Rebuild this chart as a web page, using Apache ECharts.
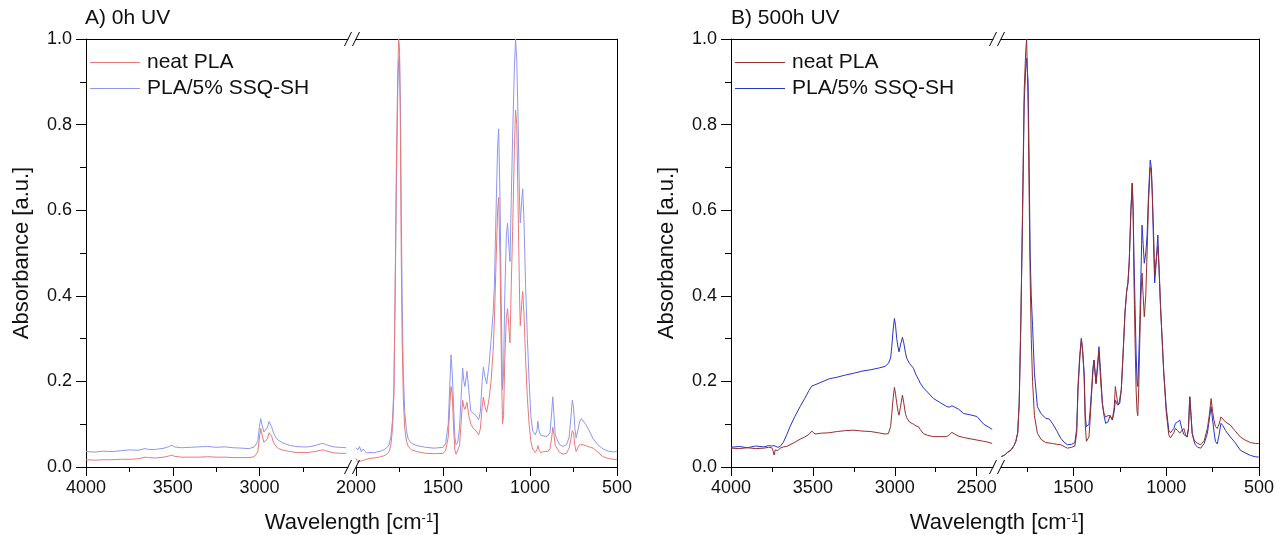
<!DOCTYPE html>
<html><head><meta charset="utf-8">
<script src="https://cdn.jsdelivr.net/npm/echarts@6/dist/echarts.min.js"></script>
<style>html,body{margin:0;padding:0;background:#fff}#c{width:1277px;height:535px}</style>
</head><body><div id="c"></div>
<script>
// ---------- Panel A (0h UV), left segment 4000-2500 ----------
const wA1 = [4000,3950,3900,3850,3800,3750,3700,3660,3640,3600,
  3550,3520,3505,3490,3450,3400,3350,3300,3250,3200,
  3150,3100,3060,3030,3010,3000,2993,2985,2975,2965,
  2955,2945,2938,2930,2920,2905,2890,2870,2850,2820,
  2790,2760,2720,2680,2650,2635,2620,2600,2570,2540,2500];
const ssqA1 = [0.036,0.035,0.037,0.036,0.038,0.040,0.039,0.043,0.041,0.041,
  0.044,0.048,0.051,0.047,0.045,0.046,0.047,0.048,0.046,0.047,
  0.045,0.044,0.043,0.047,0.060,0.095,0.113,0.098,0.082,0.080,
  0.092,0.106,0.107,0.094,0.080,0.068,0.062,0.057,0.054,0.050,
  0.048,0.047,0.047,0.050,0.054,0.055,0.053,0.050,0.047,0.046,0.045];
const neatA1 = [0.017,0.016,0.017,0.017,0.018,0.018,0.019,0.023,0.022,0.021,
  0.023,0.026,0.028,0.025,0.023,0.023,0.023,0.024,0.023,0.023,
  0.022,0.022,0.022,0.024,0.035,0.070,0.090,0.075,0.058,0.055,
  0.065,0.080,0.083,0.072,0.058,0.048,0.043,0.040,0.038,0.036,
  0.034,0.034,0.034,0.036,0.039,0.040,0.038,0.036,0.033,0.032,0.032];

// ---------- Panel A, right segment 2000-500 ----------
const wA2 = [2000,1990,1980,1970,1960,1940,1920,1900,1880,1860,
  1840,1820,1810,1800,1790,1782,1775,1768,1760,1755,
  1750,1745,1740,1735,1728,1720,1710,1700,1680,1650,
  1600,1550,1500,1485,1470,1460,1454,1447,1440,1432,
  1425,1415,1405,1395,1387,1380,1374,1362,1352,1340,
  1325,1310,1295,1285,1275,1268,1258,1249,1235,1224,
  1212,1205,1195,1186,1180,1172,1165,1158,1152,1145,
  1136,1129,1122,1115,1108,1100,1090,1083,1076,1068,
  1060,1056,1048,1042,1035,1025,1015,1005,995,985,
  970,960,955,948,940,920,900,885,875,869,
  862,855,845,830,810,790,775,765,757,750,
  742,735,725,715,705,695,680,660,637,610,
  580,550,520,500];
const ssqA2 = [.045,.040,.048,.036,.042,.033,.034,.033,.035,.037,
  .040,.046,.052,.070,.110,.19,.40,.65,.88,.95,
  .96,.85,.60,.40,.22,.13,.085,.065,.055,.050,
  .046,.044,.046,.055,.10,.20,.262,.22,.15,.07,
  .052,.058,.09,.17,.231,.20,.188,.224,.18,.13,
  .125,.120,.110,.13,.20,.233,.21,.194,.24,.295,
  .36,.42,.60,.75,.79,.62,.38,.18,.22,.40,
  .54,.57,.52,.48,.62,.77,.93,1.0,.95,.80,
  .62,.57,.62,.65,.58,.42,.30,.20,.12,.085,
  .075,.085,.107,.085,.075,.072,.072,.080,.130,.164,
  .120,.075,.065,.052,.048,.052,.070,.115,.156,.140,
  .090,.068,.085,.105,.113,.110,.100,.085,.066,.052,
  .042,.037,.035,.037];
const neatA2 = [.020,.012,.015,.014,.016,.018,.020,.021,.022,.024,
  .026,.031,.036,.050,.090,.17,.42,.70,.92,1.0,
  .98,.80,.50,.30,.16,.09,.060,.048,.040,.036,
  .032,.031,.032,.038,.07,.15,.188,.17,.10,.04,
  .030,.032,.05,.11,.156,.140,.135,.151,.120,.10,
  .090,.085,.075,.09,.14,.163,.14,.128,.16,.20,
  .27,.34,.48,.60,.63,.48,.26,.10,.12,.25,
  .35,.37,.33,.29,.42,.55,.74,.834,.80,.60,
  .40,.33,.38,.41,.36,.25,.16,.10,.060,.042,
  .034,.040,.050,.040,.034,.036,.036,.042,.070,.093,
  .075,.050,.044,.034,.030,.032,.045,.065,.085,.080,
  .050,.036,.045,.052,.053,.052,.050,.047,.044,.035,
  .024,.020,.018,.017];

// ---------- Panel B (500h UV), left segment 4000-2400 ----------
const wB1 = [4000,3950,3900,3850,3800,3770,3751,3745,3737,3730,
  3725,3715,3700,3680,3660,3640,3610,3578,3550,3525,
  3507,3495,3487,3450,3400,3350,3300,3250,3200,3150,
  3100,3060,3039,3025,3018,3010,3002,2995,2988,2980,
  2974,2965,2953,2945,2935,2927,2910,2886,2870,2855,
  2845,2825,2800,2764,2720,2682,2665,2651,2635,2610,
  2580,2540,2498,2457,2430,2405];
const ssqB1 = [.046,.048,.045,.049,.047,.050,.049,.052,.050,.051,
  .050,.046,.048,.058,.075,.094,.118,.141,.160,.178,
  .189,.191,.192,.198,.206,.210,.215,.219,.224,.227,
  .231,.235,.242,.255,.281,.320,.347,.330,.300,.280,
  .269,.285,.303,.290,.268,.254,.242,.231,.215,.205,
  .196,.185,.175,.160,.150,.141,.140,.143,.140,.135,
  .125,.122,.118,.100,.094,.088];
const neatB1 = [.044,.043,.045,.043,.044,.046,.045,.040,.028,.040,
  .036,.038,.044,.047,.048,.052,.058,.065,.070,.076,
  .084,.080,.077,.079,.080,.083,.085,.086,.084,.083,
  .080,.077,.078,.095,.125,.160,.186,.170,.150,.130,
  .121,.140,.168,.150,.125,.115,.105,.100,.096,.094,
  .088,.078,.074,.071,.071,.071,.076,.081,.077,.072,
  .069,.066,.063,.060,.058,.055];

// ---------- Panel B, right segment 1890-500 ----------
const wB2 = [1890,1870,1855,1835,1820,1810,1800,1792,1783,1774,
  1765,1757,1752,1744,1738,1733,1727,1720,1710,1694,
  1675,1649,1630,1613,1590,1568,1550,1532,1510,1492,
  1482,1475,1466,1457,1450,1442,1436,1430,1423,1416,
  1410,1402,1395,1389,1383,1378,1370,1362,1353,1344,
  1335,1326,1314,1302,1290,1280,1274,1268,1262,1256,
  1250,1242,1232,1222,1213,1206,1199,1190,1183,1178,
  1174,1168,1162,1157,1153,1148,1142,1136,1130,1124,
  1118,1110,1103,1095,1086,1080,1075,1068,1062,1055,
  1045,1038,1031,1022,1013,1000,986,977,968,959,
  950,938,927,916,905,895,887,880,873,866,
  860,850,843,830,814,795,778,768,758,750,
  743,735,725,715,705,695,680,654,630,600,
  575,546,520,501];
const ssqB2 = [.024,.028,.034,.040,.050,.060,.080,.149,.34,.577,
  .85,.93,.955,.90,.70,.50,.40,.33,.22,.141,
  .125,.114,.112,.102,.085,.067,.058,.052,.053,.057,
  .09,.19,.26,.30,.27,.22,.12,.094,.095,.10,
  .13,.18,.23,.25,.22,.195,.24,.281,.22,.149,
  .12,.102,.105,.12,.11,.13,.156,.15,.145,.145,
  .149,.18,.266,.36,.41,.43,.48,.60,.663,.60,
  .50,.38,.266,.20,.188,.25,.34,.45,.565,.52,
  .476,.50,.54,.64,.717,.70,.64,.52,.43,.47,
  .542,.46,.38,.30,.22,.14,.086,.08,.085,.09,
  .102,.105,.11,.09,.076,.072,.07,.09,.164,.12,
  .079,.06,.052,.046,.044,.055,.079,.11,.141,.11,
  .086,.06,.054,.075,.102,.097,.085,.07,.058,.039,
  .033,.027,.024,.023];
const neatB2 = [.024,.028,.034,.040,.050,.060,.080,.149,.34,.60,
  .88,.97,1.0,.85,.62,.45,.30,.20,.12,.079,
  .065,.057,.056,.055,.053,.052,.048,.044,.046,.049,
  .08,.18,.25,.30,.27,.21,.10,.06,.058,.07,
  .11,.17,.22,.25,.22,.195,.23,.27,.20,.149,
  .125,.117,.12,.12,.11,.14,.188,.17,.15,.145,
  .149,.18,.266,.36,.41,.43,.48,.60,.663,.60,
  .45,.30,.18,.13,.12,.18,.30,.40,.453,.40,
  .351,.40,.50,.62,.70,.69,.64,.55,.45,.48,
  .516,.46,.38,.30,.22,.13,.075,.068,.068,.08,
  .09,.085,.079,.085,.09,.075,.07,.09,.164,.12,
  .079,.064,.059,.055,.052,.062,.09,.12,.160,.13,
  .11,.095,.09,.10,.117,.114,.105,.098,.085,.07,
  .063,.057,.055,.055];

// ---------- tick values ----------
const majorA1 = [4000,3500,3000], minorA1 = [3750,3250,2750];
const majorA2 = [2000,1500,1000,500], minorA2 = [1750,1250,750];
const majorB1 = [4000,3500,3000,2500], minorB1 = [3750,3250,2750];
const majorB2 = [1500,1000,500], minorB2 = [1750,1250,750];

const seriesNames = ['neat PLA', 'PLA/5% SSQ-SH'];
const titles = ['A) 0h UV', 'B) 500h UV'];

// ---------- layout / style ----------
const FONT = '"Liberation Sans", Arial, sans-serif';
const TOP = 39, H = 428, BOT = TOP + H;
const segs = [
  {left: 86,   width: 262,   min: 2490, max: 4000, major: majorA1, minor: minorA1, panel: 0, w: wA1, neat: neatA1, ssq: ssqA1},
  {left: 356,  width: 261,   min: 500,  max: 2000, major: majorA2, minor: minorA2, panel: 0, w: wA2, neat: neatA2, ssq: ssqA2},
  {left: 731,  width: 262,   min: 2400, max: 4000, major: majorB1, minor: minorB1, panel: 1, w: wB1, neat: neatB1, ssq: ssqB1},
  {left: 1001, width: 261,   min: 500,  max: 1890, major: majorB2, minor: minorB2, panel: 1, w: wB2, neat: neatB2, ssq: ssqB2}
];
const colors = [
  {neat: '#e8797b', ssq: '#8d98ef'},
  {neat: '#962e2e', ssq: '#2633c8'}
];
const zip = (a, b) => a.map((x, i) => [x, b[i]]);

const grid = [], xAxis = [], yAxis = [], series = [];
segs.forEach((s, i) => {
  grid.push({left: s.left, top: TOP, width: s.width, height: H, containLabel: false});
  const base = {gridIndex: i, type: 'value', min: s.min, max: s.max, inverse: true,
    splitLine: {show: false}};
  xAxis.push(Object.assign({}, base, {
    position: 'bottom',
    axisLine: {show: true, onZero: false, lineStyle: {color: '#000', width: 1}},
    axisTick: {show: true, customValues: s.major, length: 9, lineStyle: {color: '#000', width: 1}},
    axisLabel: {show: true, customValues: s.major, margin: 12, fontSize: 18, color: '#111',
      fontFamily: FONT, formatter: v => String(v)}
  }));
  xAxis.push(Object.assign({}, base, {
    position: 'bottom',
    axisLine: {show: false, onZero: false},
    axisTick: {show: true, customValues: s.minor, length: 5, lineStyle: {color: '#000', width: 1}},
    axisLabel: {show: false}
  }));
  xAxis.push(Object.assign({}, base, {
    position: 'top',
    axisLine: {show: true, onZero: false, lineStyle: {color: '#000', width: 1}},
    axisTick: {show: false}, axisLabel: {show: false}
  }));
  const isLeft = (i % 2 === 0);
  if (isLeft) {
    yAxis.push({gridIndex: i, type: 'value', min: 0, max: 1, interval: 0.2, position: 'left',
      axisLine: {show: true, onZero: false, lineStyle: {color: '#000', width: 1}},
      axisTick: {show: true, length: 10, lineStyle: {color: '#000', width: 1}},
      minorTick: {show: true, splitNumber: 2, length: 6, lineStyle: {color: '#000', width: 1}},
      axisLabel: {margin: 14, fontSize: 18, color: '#111', fontFamily: FONT, formatter: v => v.toFixed(1)},
      splitLine: {show: false}, minorSplitLine: {show: false},
      name: 'Absorbance [a.u.]', nameLocation: 'middle', nameGap: 53,
      nameTextStyle: {fontSize: 22, color: '#111', fontFamily: FONT}});
  } else {
    yAxis.push({gridIndex: i, type: 'value', min: 0, max: 1, position: 'right',
      axisLine: {show: true, onZero: false, lineStyle: {color: '#000', width: 1}},
      axisTick: {show: false}, axisLabel: {show: false}, splitLine: {show: false}});
  }
  const c = colors[s.panel];
  const pfx = s.panel === 0 ? 'A|' : 'B|';
  series.push({type: 'line', name: pfx + seriesNames[1], xAxisIndex: i * 3, yAxisIndex: i,
    data: zip(s.w, s.ssq), symbol: 'none', showSymbol: false, animation: false, silent: true,
    lineStyle: {width: 1, color: c.ssq}, itemStyle: {color: c.ssq}, z: 2});
  series.push({type: 'line', name: pfx + seriesNames[0], xAxisIndex: i * 3, yAxisIndex: i,
    data: zip(s.w, s.neat), symbol: 'none', showSymbol: false, animation: false, silent: true,
    lineStyle: {width: 1, color: c.neat}, itemStyle: {color: c.neat}, z: 3});
});

const graphic = [];
// legends (line sample + label), one per panel
[{x0: 90, c: colors[0]}, {x0: 735, c: colors[1]}].forEach(L => {
  [[seriesNames[0], L.c.neat, 62], [seriesNames[1], L.c.ssq, 88]].forEach(([txt, col, cy]) => {
    graphic.push({type: 'line', silent: true, z: 50,
      shape: {x1: L.x0, y1: cy + 0.5, x2: L.x0 + 50, y2: cy + 0.5},
      style: {stroke: col, lineWidth: 1}});
    graphic.push({type: 'text', silent: true, z: 50, x: L.x0 + 57, y: cy,
      style: {text: txt, fontSize: 21, fontFamily: FONT, fill: '#111', verticalAlign: 'middle'}});
  });
});

// break marks "//" on top and bottom frame lines
function slash(cx, cy) {
  graphic.push({type: 'line', silent: true, z: 100,
    shape: {x1: cx - 3.5, y1: cy + 7, x2: cx + 3.5, y2: cy - 7},
    style: {stroke: '#000', lineWidth: 1}});
}
[[0, 1], [2, 3]].forEach(([a, b]) => {
  const xa = segs[a].left + segs[a].width, xb = segs[b].left;
  [TOP, BOT].forEach(y => { slash(xa, y); slash(xb, y); });
});
// panel titles
graphic.push({type: 'text', left: 85, top: 8, style: {text: titles[0], fontSize: 21, fontFamily: FONT, fill: '#111'}});
graphic.push({type: 'text', left: 731, top: 8, style: {text: titles[1], fontSize: 21, fontFamily: FONT, fill: '#111'}});
// x axis titles
[352, 997].forEach(cx => {
  graphic.push({type: 'text', x: cx, y: 523, silent: true,
    style: {text: 'Wavelength [cm{s|-1}]', fontSize: 22, fontFamily: FONT, fill: '#111',
      align: 'center', verticalAlign: 'middle',
      rich: {s: {fontSize: 13, fontFamily: FONT, fill: '#111', verticalAlign: 'top'}}}});
});

const chart = echarts.init(document.getElementById('c'), null, {renderer: 'canvas'});
chart.setOption({animation: false, backgroundColor: '#fff', grid, xAxis, yAxis, series, graphic});
</script>
</body></html>
